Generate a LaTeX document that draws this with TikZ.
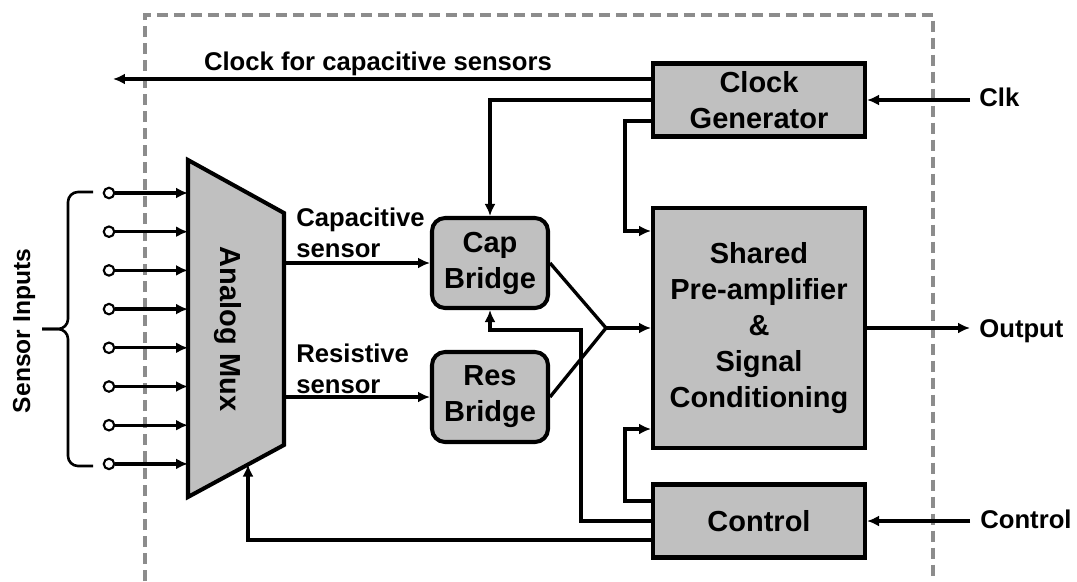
\documentclass[tikz,border=0pt]{standalone}
\usepackage{fontspec}
\setmainfont{Liberation Sans}
\usetikzlibrary{arrows.meta,calc}
\definecolor{blockgray}{HTML}{C0C0C0}
\definecolor{chipgray}{HTML}{8C8C8C}
\tikzset{
  every picture/.style={line join=miter, >={Latex[length=2.4mm,width=2.2mm]}},
  wire/.style={line width=1.9pt},
  block/.style={draw, line width=2.3pt, fill=blockgray, align=center, inner sep=0pt,
    font=\fontsize{16.5}{20.5}\selectfont\bfseries},
  widebox/.style={block, minimum width=4.24cm, minimum height=1.46cm},
  bridge/.style={block, rounded corners=0.26cm, minimum width=2.32cm, minimum height=1.8cm},
  lbl/.style={inner sep=0pt, align=left, font=\fontsize{14.6}{17.4}\selectfont\bfseries},
  pin/.style={circle, draw, fill=white, line width=1.2pt, minimum size=0.21cm, inner sep=0pt},
}

\begin{document}
\begin{tikzpicture}[x=0.02cm, y=-0.02cm]
\useasboundingbox (0,0) rectangle (1077,581);
% chip boundary
\draw[chipgray, line width=1.9pt, dash pattern=on 0.22cm off 0.12cm] (145,581) -- (145,15) -- (933,15) -- (933,581);

% blocks
\node[widebox] (clkgen) at (759,100) {Clock\\Generator};
\node[widebox, minimum height=4.8cm] (shared) at (759,328) {Shared\\Pre-amplifier\\\&\\Signal\\Conditioning};
\node[widebox] (ctrl) at (759,521) {Control};
\node[bridge] (cap) at (490,263) {Cap\\Bridge};
\node[bridge] (res) at (490,397) {Res\\Bridge};

% analog mux
\coordinate (muxtl) at (188,160);
\coordinate (muxtr) at (284,213);
\coordinate (muxbr) at (284,445);
\coordinate (muxbl) at (188,497);
\draw[line width=2.3pt, fill=blockgray] (muxtl) -- (muxtr) -- (muxbr) -- (muxbl) -- cycle;
\node[rotate=-90, font=\fontsize{16.5}{20.5}\selectfont\bfseries] (mux) at (228,329) {Analog Mux};
\coordinate (muxsel) at ($(muxbl)!0.625!(muxbr)$);

% sensor inputs
\foreach \i in {0,...,7}{
  \node[pin] (in\i) at (109,{193+38.7*\i}) {};
  \draw[wire,->] (in\i) -- (in\i -| muxtl);
}
\coordinate (bracetip) at (42,329);
\draw[line width=1.5pt, rounded corners=0.2cm] (93,192) -- (68,192) -- (68,329) -- (bracetip);
\draw[line width=1.5pt, rounded corners=0.2cm] (93,466) -- (68,466) -- (68,329) -- (bracetip);
\node[rotate=90, font=\fontsize{14}{16}\selectfont\bfseries] (sensin) at (24,331) {Sensor Inputs};

% mux outputs
\draw[wire,->] (cap.west -| muxtr) -- (cap.west);
\draw[wire,->] (res.west -| muxtr) -- (res.west);
\node[lbl, anchor=north west] (caplbl) at (296,208) {Capacitive\\sensor};
\node[lbl, anchor=north west] (reslbl) at (296,344) {Resistive\\sensor};

% bridges into the shared amplifier
\coordinate (merge) at (606,328);
\draw[wire] (cap.east) -- (merge) -- (res.east);
\draw[wire,->] (merge) -- (shared.west);

% clock generator
\coordinate (clkout) at (113,79);
\draw[wire,->] (clkgen.west |- clkout) -- (clkout);
\node[lbl, anchor=base] (clklbl) at (378,71) {Clock for capacitive sensors};
\draw[wire,->] (clkgen.west) -| (cap.north);
\draw[wire,->] ([yshift=-0.42cm]clkgen.west) -- ++(-0.52cm,0) |- ([yshift=-0.5cm]shared.north west);

% control
\draw[wire,->] ([yshift=0.4cm]ctrl.west) -- ++(-0.52cm,0) |- ([yshift=0.42cm]shared.south west);
\coordinate (capret) at (581,330);
\draw[wire,->] (ctrl.west) -| (capret) -| (cap.south);
\draw[wire,->] ([yshift=-0.38cm]ctrl.west) -| (muxsel);

% external pins
\node[lbl, anchor=base west] (clkin) at (979,107) {Clk};
\draw[wire,->] ([xshift=-0.18cm]clkin.west |- clkgen.east) -- (clkgen.east);
\node[lbl, anchor=base west] (ctrlin) at (980,528) {Control};
\draw[wire,->] ([xshift=-0.2cm]ctrlin.west |- ctrl.east) -- (ctrl.east);
\node[lbl, anchor=base west] (outlbl) at (979,337) {Output};
\draw[wire,->] (shared.east) -- ([xshift=-0.18cm]outlbl.west |- shared.east);
\end{tikzpicture}
\end{document}
